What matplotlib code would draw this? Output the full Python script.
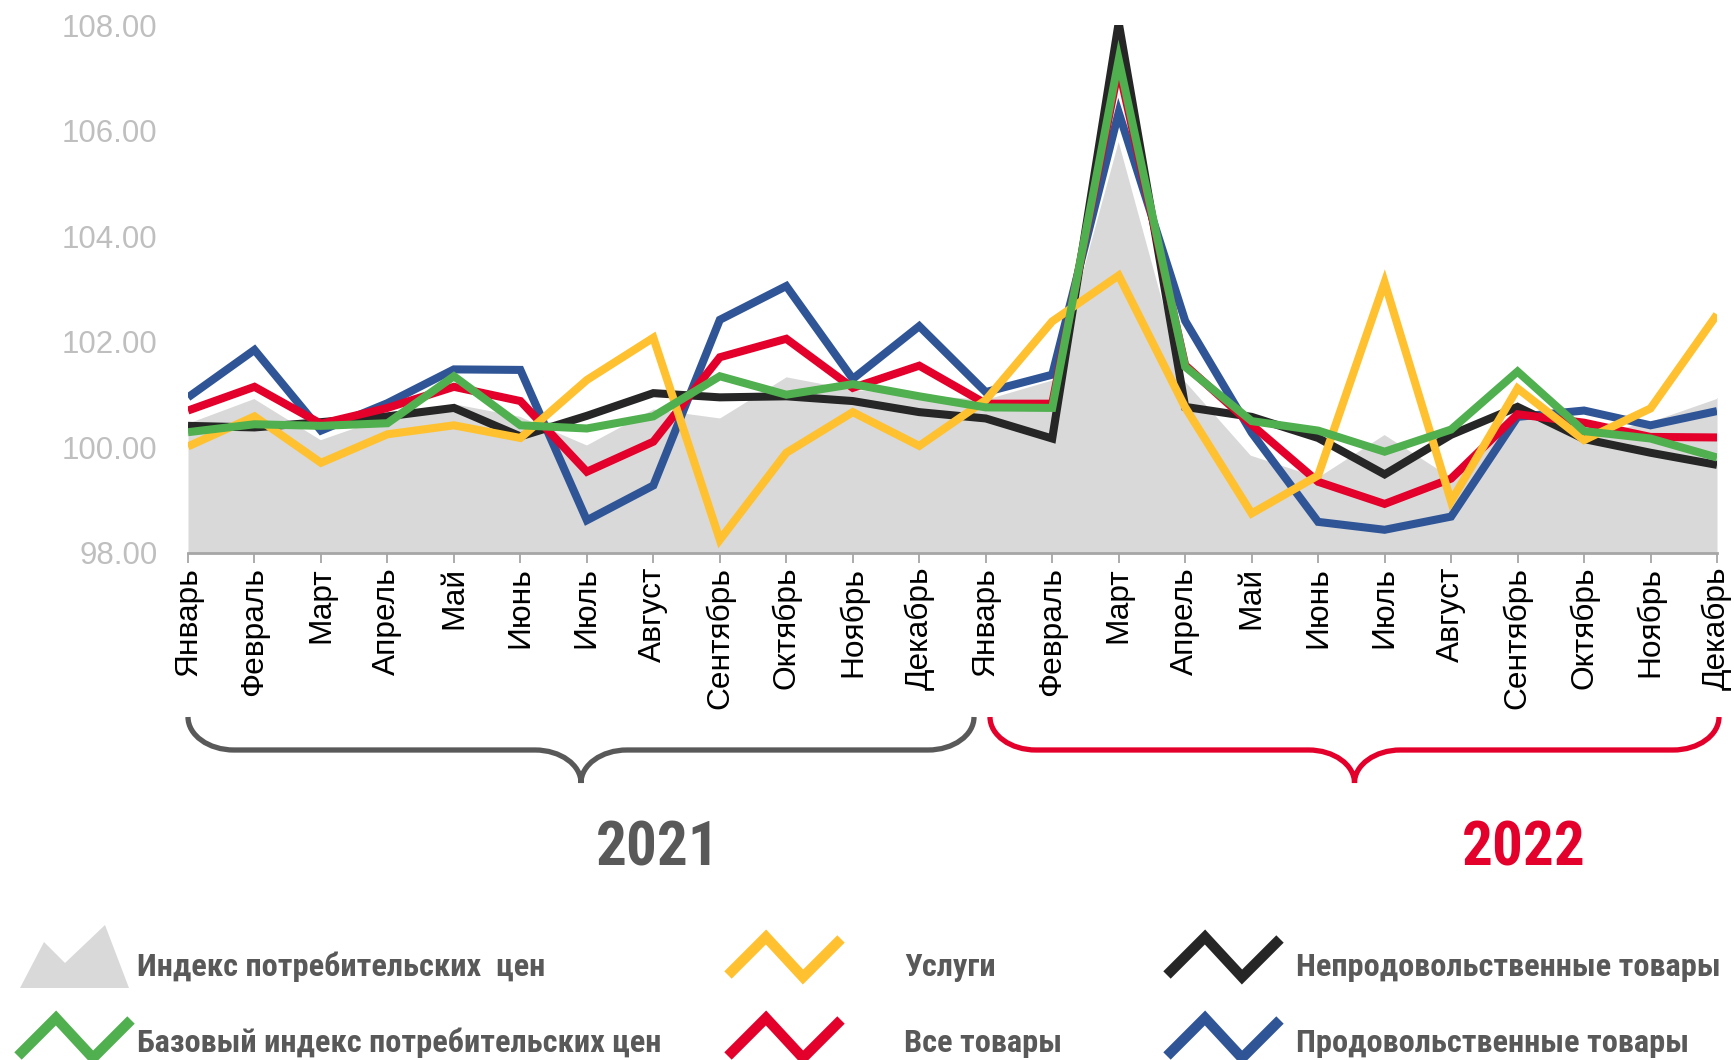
import matplotlib
matplotlib.use("Agg")
import matplotlib.pyplot as plt
from matplotlib.path import Path
from matplotlib.patches import PathPatch, Polygon
import numpy as np

plt.rcParams['font.family'] = ['Liberation Sans', 'DejaVu Sans']
NARROW = ['Roboto Condensed', 'PT Sans Narrow', 'Fira Sans Condensed', 'Liberation Sans']

months = ['Январь', 'Февраль', 'Март', 'Апрель', 'Май', 'Июнь', 'Июль', 'Август',
          'Сентябрь', 'Октябрь', 'Ноябрь', 'Декабрь'] * 2
years = ['2021', '2022']
y_ticks = [98, 100, 102, 104, 106, 108]

# Индекс потребительских цен (area)
cpi = [100.48, 100.95, 100.17, 100.61, 100.85, 100.61, 100.07, 100.75, 100.58, 101.36, 101.12, 101.02,
       100.93, 101.30, 105.90, 101.29, 99.87, 99.46, 100.27, 99.46, 100.75, 100.24, 100.51, 100.95]
# Продовольственные товары
food = [100.95, 101.85, 100.32, 100.84, 101.48, 101.47, 98.62, 99.28, 102.42, 103.06, 101.30, 102.30,
        101.05, 101.38, 106.35, 102.40, 100.28, 98.59, 98.44, 98.69, 100.58, 100.70, 100.42, 100.69]
# Все товары
goods = [100.70, 101.15, 100.45, 100.75, 101.15, 100.88, 99.54, 100.11, 101.71, 102.06, 101.13, 101.55,
         100.83, 100.83, 107.20, 101.56, 100.43, 99.35, 98.93, 99.41, 100.63, 100.47, 100.20, 100.19]
# Непродовольственные товары
nonfood = [100.41, 100.38, 100.48, 100.59, 100.75, 100.21, 100.60, 101.03, 100.95, 100.97, 100.88, 100.67,
           100.55, 100.17, 108.05, 100.77, 100.58, 100.18, 99.49, 100.24, 100.77, 100.16, 99.90, 99.67]
# Базовый индекс потребительских цен
core = [100.29, 100.44, 100.41, 100.46, 101.35, 100.42, 100.36, 100.59, 101.35, 101.00, 101.20, 100.97,
        100.76, 100.75, 107.35, 101.53, 100.50, 100.32, 99.92, 100.34, 101.44, 100.31, 100.17, 99.81]
# Услуги
services = [100.02, 100.59, 99.71, 100.25, 100.42, 100.18, 101.28, 102.08, 98.25, 99.90, 100.67, 100.03,
            100.90, 102.39, 103.26, 100.76, 98.75, 99.47, 103.13, 98.98, 101.12, 100.14, 100.74, 102.52]

GREY_FILL = '#d9d9d9'
BLUE = '#2f5597'
RED = '#e3002b'
BLACK = '#262626'
GREEN = '#50af4f'
YELLOW = '#ffc12f'
TXT = '#595959'

W, H = 1734, 1060
fig = plt.figure(figsize=(W / 100, H / 100), dpi=100)
ax = fig.add_axes([188 / W, (H - 553) / H, (1717 - 188) / W, (553 - 25.4) / H])

x = np.arange(len(months))
ax.fill_between(x, 98, cpi, color=GREY_FILL, lw=0, zorder=1)
ax.plot(x, cpi, color='white', lw=2.2, zorder=2)

lw = 5.8
for vals, col in [(food, BLUE), (nonfood, BLACK), (goods, RED), (services, YELLOW), (core, GREEN)]:
    ax.plot(x, vals, color=col, lw=lw, solid_joinstyle='miter', solid_capstyle='butt', zorder=3)

ax.set_xlim(0, len(months) - 1)
ax.set_ylim(98, 108)
ax.set_yticks(y_ticks)
ax.set_yticklabels([f'{v:.2f}' for v in y_ticks], fontsize=22.5, color='#bfbfbf')
ax.tick_params(axis='y', length=0, pad=22)
ax.set_xticks(x)
ax.set_xticklabels(months, rotation=90, fontsize=22.8, color='black', va='top', ha='center')
ax.tick_params(axis='x', direction='out', length=7, width=1.3, color='#a6a6a6', pad=3)
for s in ['left', 'right', 'top']:
    ax.spines[s].set_visible(False)
ax.spines['bottom'].set_color('#a6a6a6')
ax.spines['bottom'].set_linewidth(2)
ax.patch.set_alpha(0)

# overlay in pixel coords for braces and legend
ov = fig.add_axes([0, 0, 1, 1])
ov.set_xlim(0, W)
ov.set_ylim(H, 0)
ov.axis('off')
ov.patch.set_alpha(0)


def brace(x0, x1, ytop, ymid, ytip, color, rx=46):
    k = 0.5523
    xc = (x0 + x1) / 2
    r1 = ymid - ytop
    r2 = ytip - ymid
    verts = [(x0, ytop),
             (x0, ytop + k * r1), (x0 + rx - k * rx, ymid), (x0 + rx, ymid),
             (xc - rx, ymid),
             (xc - rx + k * rx, ymid), (xc, ytip - k * r2), (xc, ytip),
             (xc, ytip - k * r2), (xc + rx - k * rx, ymid), (xc + rx, ymid),
             (x1 - rx, ymid),
             (x1 - rx + k * rx, ymid), (x1, ytop + k * r1), (x1, ytop)]
    codes = [Path.MOVETO] + [Path.CURVE4] * 3 + [Path.LINETO] + [Path.CURVE4] * 6 + \
            [Path.LINETO] + [Path.CURVE4] * 3
    ov.add_patch(PathPatch(Path(verts, codes), fill=False, ec=color, lw=3.8))


brace(188, 974, 717, 750, 783, TXT)
brace(990, 1719, 717, 750, 783, RED)

year_font = dict(family=NARROW, fontweight='bold', fontsize=44)
ov.text(658, 848, years[0], color=TXT, ha='center', va='center', **year_font)
ov.text(1524, 848, years[1], color=RED, ha='center', va='center', **year_font)

# legend
leg_font = dict(family=NARROW, fontweight='bold', fontsize=23.3,
                color=TXT, va='center', ha='left')
ov.add_patch(Polygon([(20, 988), (44, 942), (65, 963), (105, 925), (129, 988)],
                     closed=True, fc=GREY_FILL, ec='none'))


def zig(x0, y0, color):
    xs = [x0, x0 + 38, x0 + 75, x0 + 113]
    ys = [y0 + 38, y0, y0 + 40, y0 + 2]
    ov.plot(xs, ys, color=color, lw=7.5, solid_capstyle='butt', solid_joinstyle='miter')


zig(18, 1018, GREEN)
zig(728, 937, YELLOW)
zig(728, 1018, RED)
zig(1167, 937, BLACK)
zig(1167, 1018, BLUE)

ov.text(137, 967, 'Индекс потребительских  цен', **leg_font)
ov.text(137, 1043, 'Базовый индекс потребительских цен', **leg_font)
ov.text(904, 967, 'Услуги', **leg_font)
ov.text(904, 1043, 'Все товары', **leg_font)
ov.text(1296, 967, 'Непродовольственные товары', **leg_font)
ov.text(1296, 1043, 'Продовольственные товары', **leg_font)

fig.savefig('out.png', dpi=100)
